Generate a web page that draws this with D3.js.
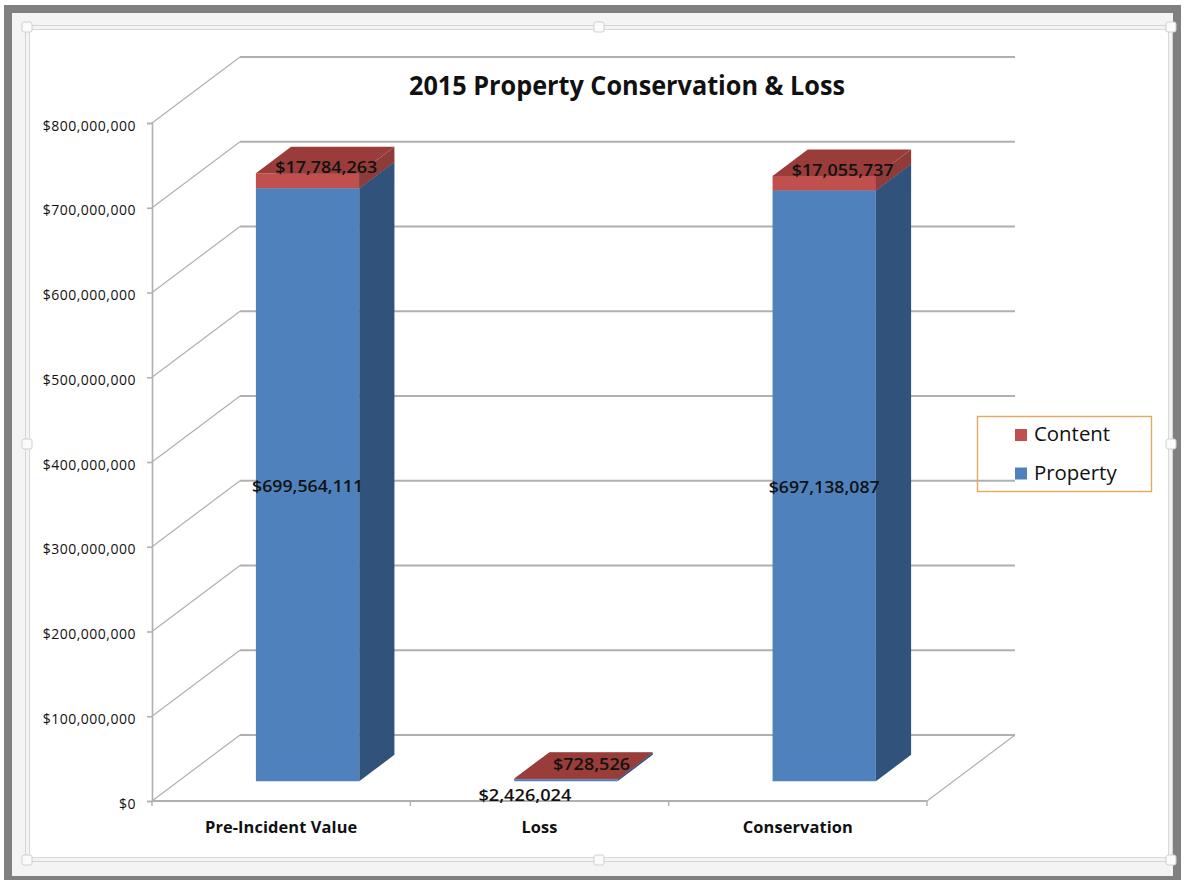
<!DOCTYPE html>
<html>
<head>
<meta charset="utf-8">
<script src="https://cdn.jsdelivr.net/npm/d3@7"></script>
<style>
html,body{margin:0;padding:0;background:#fff}
svg{display:block}
text{font-family:"Open Sans","Noto Sans",sans-serif;fill:#111}
</style>
</head>
<body>
<svg id="chart" width="1185" height="880"></svg>
<script>
const chartTitle = "2015 Property Conservation & Loss";
const categories = ["Pre-Incident Value", "Loss", "Conservation"];
const seriesNames = ["Property", "Content"];
const propertyValues = [699564111, 2426024, 697138087];
const contentValues = [17784263, 728526, 17055737];
const yTicks = [0, 100000000, 200000000, 300000000, 400000000, 500000000, 600000000, 700000000, 800000000];
const legendOrder = ["Content", "Property"];

const svg = d3.select("#chart");
const W = 1185, H = 880;

// Slide-style window chrome around the chart object
svg.append("rect").attr("width", W).attr("height", H).attr("fill", "#fff");
svg.append("rect").attr("x", 8).attr("y", 9).attr("width", 1169).attr("height", 871)
  .attr("fill", "#f4f4f4").attr("stroke", "#808080").attr("stroke-width", 8);
svg.append("rect").attr("x", 30).attr("y", 30).attr("width", 1138).attr("height", 827).attr("fill", "#fff");
svg.append("rect").attr("x", 25.5).attr("y", 25.5).attr("width", 1147).attr("height", 836)
  .attr("fill", "none").attr("stroke", "#d4d4d4");
svg.append("rect").attr("x", 29.5).attr("y", 29.5).attr("width", 1139).attr("height", 828)
  .attr("fill", "none").attr("stroke", "#d9d9d9");
const handles = [[27,27],[599,27],[1171,27],[27,444],[1171,444],[27,860],[599,860],[1171,860]];
svg.selectAll("rect.handle").data(handles).join("rect").attr("class", "handle")
  .attr("x", d => d[0] - 5).attr("y", d => d[1] - 5).attr("width", 10).attr("height", 10).attr("rx", 2)
  .attr("fill", "#fbfbfb").attr("stroke", "#d0d0d0");

// Oblique projection: depth 0 is the front plane, depth 1 is the back wall
const depthX = 88, depthY = -66;
const x = d3.scaleBand().domain(categories).range([152, 927]);
const y = d3.scaleLinear().domain([0, 800000000]).range([801, 123]);
const proj = (px, value, depth) => [px + depthX * depth, y(value) + depthY * depth];
const poly = pts => "M" + pts.map(p => p.join(",")).join("L") + "Z";

const gridColor = "#b0b0b0";

// Floor and back-wall gridlines with their side-wall diagonals
const grid = svg.append("g").attr("fill", "none");
yTicks.forEach(t => {
  const a = proj(152, t, 0), b = proj(152, t, 1), c = proj(927, t, 1);
  grid.append("line").attr("x1", a[0]).attr("y1", a[1]).attr("x2", b[0]).attr("y2", b[1])
    .attr("stroke", gridColor).attr("stroke-width", 1.2);
  grid.append("line").attr("x1", b[0]).attr("y1", b[1]).attr("x2", c[0]).attr("y2", c[1])
    .attr("stroke", gridColor).attr("stroke-width", 1.8);
});
const fr0 = proj(927, 0, 0), fr1 = proj(927, 0, 1);
grid.append("line").attr("x1", fr0[0]).attr("y1", fr0[1]).attr("x2", fr1[0]).attr("y2", fr1[1])
  .attr("stroke", gridColor).attr("stroke-width", 1.2);

// Axes
const yAxis = svg.append("g").attr("transform", "translate(152,0)")
  .call(d3.axisLeft(y).tickValues(yTicks).tickSize(5).tickPadding(11).tickFormat(d3.format("$,")));
yAxis.selectAll("text").attr("font-size", 14).attr("letter-spacing", "0.5px").attr("dy", "0.5em").attr("fill", "#222");
yAxis.selectAll("path,line").attr("stroke", gridColor).attr("stroke-width", 1.6);

const xAxis = svg.append("g").attr("transform", "translate(0,801)")
  .call(d3.axisBottom(x).tickSize(0).tickPadding(20));
xAxis.select("path").remove();
xAxis.selectAll("text").attr("font-size", 16.4).attr("font-weight", 700).attr("letter-spacing", "0.1px");
const bounds = categories.map(c => x(c)).concat([x.range()[1]]);
xAxis.selectAll("line.bound").data(bounds).join("line").attr("class", "bound")
  .attr("x1", d => d).attr("x2", d => d).attr("y1", 0).attr("y2", 5)
  .attr("stroke", gridColor).attr("stroke-width", 1.4);
xAxis.append("line").attr("x1", 152).attr("x2", 927).attr("y1", 0).attr("y2", 0)
  .attr("stroke", gridColor).attr("stroke-width", 2);

// Stacked 3-D columns
const rows = categories.map((c, i) => ({ category: c, Property: propertyValues[i], Content: contentValues[i] }));
const stacked = d3.stack().keys(seriesNames)(rows);
const colors = {
  Property: { front: "#4f81bd", side: "#31527b", top: "#3c6496" },
  Content: { front: "#c0504d", side: "#8f3b39", top: "#9a3c3a" }
};
const depthNear = 0.3, depthFar = 0.7;
const barWidth = x.bandwidth() * 0.4;
const left = c => x(c) + (x.bandwidth() - barWidth) / 2;

const bars = svg.append("g");
stacked.forEach(layer => {
  const col = colors[layer.key];
  const g = bars.append("g");
  layer.forEach((d, i) => {
    const c = categories[i], xl = left(c), xr = xl + barWidth;
    const [v0, v1] = d;
    g.append("path").attr("fill", col.side).attr("d", poly([
      proj(xr, v0, depthNear), proj(xr, v0, depthFar), proj(xr, v1, depthFar), proj(xr, v1, depthNear)]));
    g.append("path").attr("fill", col.front).attr("d", poly([
      proj(xl, v0, depthNear), proj(xr, v0, depthNear), proj(xr, v1, depthNear), proj(xl, v1, depthNear)]));
    g.append("path").attr("fill", col.top).attr("d", poly([
      proj(xl, v1, depthNear), proj(xr, v1, depthNear), proj(xr, v1, depthFar), proj(xl, v1, depthFar)]));
  });
});

// Data labels: tall columns carry them mid-face and on the cap; the flat one sits around it
const money = d3.format("$,");
const labels = svg.append("g").attr("text-anchor", "middle").attr("font-size", 15.5).attr("font-weight", 600);
categories.forEach((c, i) => {
  const cx = left(c) + barWidth / 2;
  const flat = propertyValues[i] < 50000000;
  const pBase = proj(cx, propertyValues[i] / 2, depthNear);
  const cTop = proj(cx, propertyValues[i] + contentValues[i], (depthNear + depthFar) / 2);
  const pPos = flat ? [pBase[0] - 41, pBase[1] + 21] : [pBase[0], pBase[1] + 7];
  const cPos = flat ? [cTop[0] + 8, cTop[1] + 5] : [cTop[0] + 1, cTop[1] + 13];
  labels.append("text").attr("x", pPos[0]).attr("y", pPos[1]).attr("textLength", flat ? 93 : 111)
    .attr("lengthAdjust", "spacingAndGlyphs").text(money(propertyValues[i]));
  labels.append("text").attr("x", cPos[0]).attr("y", cPos[1]).attr("textLength", flat ? 77 : 102)
    .attr("lengthAdjust", "spacingAndGlyphs").text(money(contentValues[i]));
});

// Title
svg.append("text").attr("x", 627).attr("y", 95).attr("text-anchor", "middle")
  .attr("font-size", 26).attr("font-weight", 700).attr("textLength", 436)
  .attr("lengthAdjust", "spacingAndGlyphs").attr("fill", "#000").text(chartTitle);

// Legend
const legend = svg.append("g");
legend.append("rect").attr("x", 977.5).attr("y", 416.5).attr("width", 174).attr("height", 75)
  .attr("fill", "none").attr("stroke", "#e9a660").attr("stroke-width", 1.4);
legendOrder.forEach((name, i) => {
  const cy = 435 + i * 38.5;
  legend.append("rect").attr("x", 1015).attr("y", cy - 6).attr("width", 12).attr("height", 12)
    .attr("fill", colors[name].front);
  legend.append("text").attr("x", 1034).attr("y", cy + 6).attr("font-size", 20.4)
    .attr("fill", "#222").text(name);
});
</script>
</body>
</html>
